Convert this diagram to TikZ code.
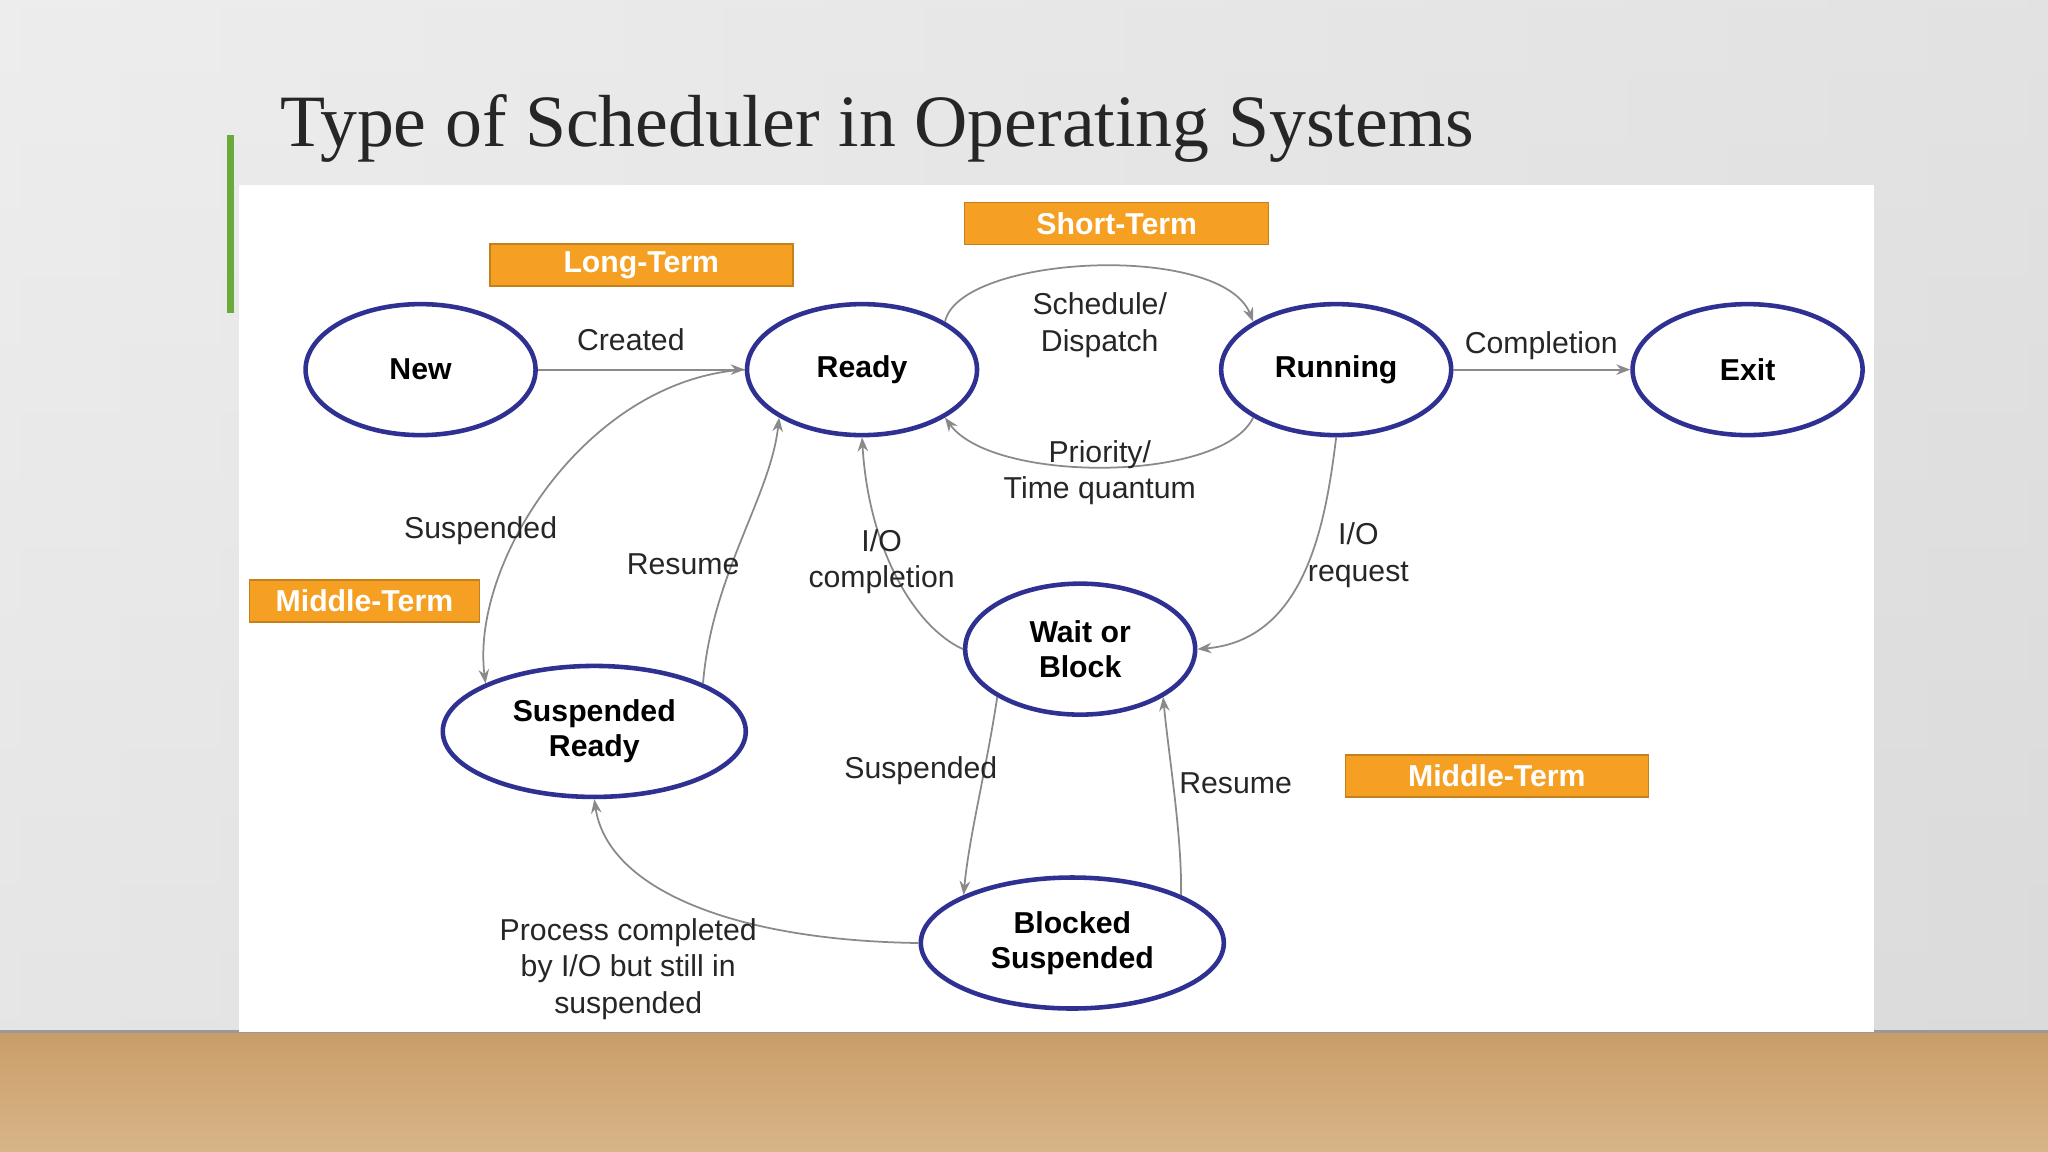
\documentclass[tikz,border=0pt]{standalone}
\usepackage{fontspec}
\setmainfont{Liberation Sans}
\newfontfamily\titlefont{Liberation Serif}
\usetikzlibrary{arrows.meta,shapes.geometric}
\definecolor{ebl}{HTML}{2E3192}
\definecolor{org}{HTML}{F5A023}
\definecolor{edg}{HTML}{8A8A8A}
\definecolor{wood}{HTML}{D8B588}
\definecolor{woodd}{HTML}{C99D68}
\definecolor{bar}{HTML}{6AAA3A}
\begin{document}
\begin{tikzpicture}[x=0.013061cm,y=-0.013061cm,
 st/.style={draw=ebl,line width=1.3pt,ellipse,fill=white,minimum width=2.3cm,minimum height=1.31cm,inner sep=1pt,font=\fontsize{8.6}{10}\selectfont\bfseries,align=center},
 wide/.style={minimum width=3.03cm},
 tag/.style={draw=org!80!black,fill=org,text=white,font=\fontsize{8.6}{10}\selectfont\bfseries,minimum height=0.42cm,inner sep=1pt},
 ed/.style={draw=edg,line width=0.5pt,-{Stealth[length=4pt,width=3pt]}},
 lb/.style={font=\fontsize{8.6}{10.3}\selectfont,align=center,text=black!85}]
\useasboundingbox (0,0) rectangle (1568,882);
\shade[top color=black!8,bottom color=black!14] (0,0) rectangle (1568,790);
\shade[left color=black!6,right color=black!14,opacity=0.5] (0,0) rectangle (1568,790);
\shade[top color=woodd,bottom color=wood] (0,790) rectangle (1568,882);
\draw[black!40,line width=0.8pt] (0,790) -- (1568,790);
\fill[bar] (174,103) rectangle (179,240);
\node[anchor=west,font=\titlefont\fontsize{21}{24}\selectfont,text=black!85] (title) at (205,98) {Type of Scheduler in Operating Systems};
\fill[white] (183,142) rectangle (1435,790);
% states
\node[st] (new) at (322,283) {New};
\node[st] (ready) at (660,283) {Ready};
\node[st] (run) at (1023,283) {Running};
\node[st] (exit) at (1338,283) {Exit};
\node[st] (wait) at (827,497) {Wait or\\Block};
\node[st,wide] (sr) at (455,560) {Suspended\\Ready};
\node[st,wide] (bs) at (821,722) {Blocked\\Suspended};
% tags
\node[tag,minimum width=3.03cm] (lt) at (491,203) {Long-Term};
\node[tag,minimum width=3.04cm] (stt) at (855,171) {Short-Term};
\node[tag,minimum width=2.3cm] (mt1) at (279,460) {Middle-Term};
\node[tag,minimum width=3.03cm] (mt2) at (1146,594) {Middle-Term};
% edges
\draw[ed] (new) -- (ready);
\node[lb] (l1) at (483,260) {Created};
\draw[ed] (ready.north east) .. controls (735,195) and (935,185) .. (run.north west);
\node[lb] (l2) at (842,249) {Schedule/\\Dispatch};
\draw[ed] (run.south west) .. controls (935,370) and (760,370) .. (ready.south east);
\node[lb] (l3) at (842,362) {Priority/\\Time quantum};
\draw[ed] (run) -- (exit);
\node[lb] (l4) at (1180,265) {Completion};
\draw[ed] (run.south) .. controls (1015,400) and (1000,490) .. (wait.east);
\node[lb] (l5) at (1040,425) {I/O\\request};
\draw[ed] (wait.west) .. controls (700,480) and (665,420) .. (ready.south);
\node[lb] (l6) at (675,430) {I/O\\completion};
\draw[ed] (ready.west) .. controls (450,290) and (360,430) .. (sr.north west);
\node[lb] (l7) at (368,406) {Suspended};
\draw[ed] (sr.north east) .. controls (545,440) and (590,380) .. (ready.south west);
\node[lb] (l8) at (523,432) {Resume};
\draw[ed] (wait.south west) .. controls (755,590) and (742,640) .. (bs.north west);
\node[lb] (l9) at (705,590) {Suspended};
\draw[ed] (bs.north east) .. controls (905,640) and (895,580) .. (wait.south east);
\node[lb] (l10) at (946,600) {Resume};
\draw[ed] (bs.west) .. controls (560,720) and (465,680) .. (sr.south);
\node[lb] (l11) at (481,742) {Process completed\\by I/O but still in\\suspended};
\end{tikzpicture}
\end{document}
